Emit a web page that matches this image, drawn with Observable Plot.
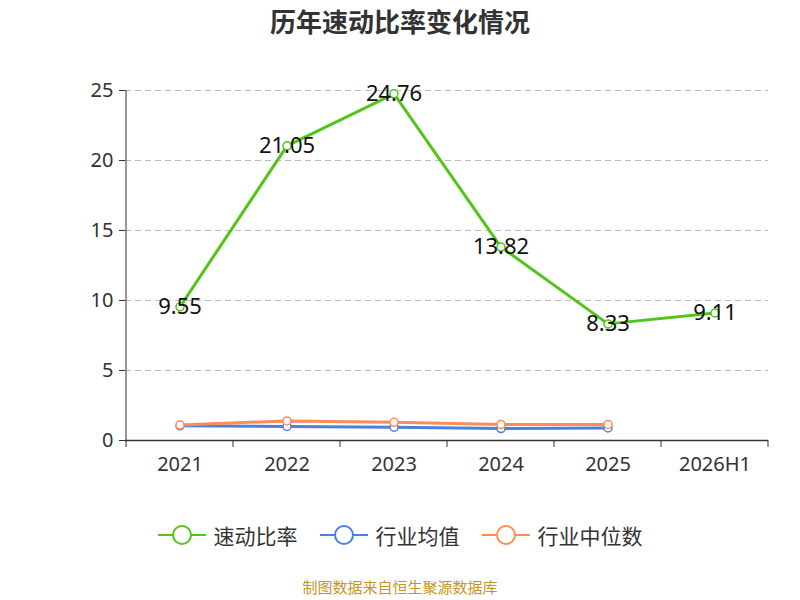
<!DOCTYPE html><html><head><meta charset="utf-8">
<script src="https://cdn.jsdelivr.net/npm/d3@7"></script>
<script src="https://cdn.jsdelivr.net/npm/@observablehq/plot@0.6"></script>
<style>body{margin:0;width:800px;height:600px;background:#fff;font-family:"Noto Sans CJK SC","Noto Sans",sans-serif;position:relative}
#t{position:absolute;top:2px;width:800px;text-align:center;font-size:26px;font-weight:bold;color:#333}
#c{position:absolute;top:40px;left:0}
#lg{position:absolute;top:520px;width:800px;display:flex;justify-content:center;gap:22px;font-size:21px;color:#333}
#lg span{display:flex;align-items:center;gap:8px}
#cap{position:absolute;top:576px;width:800px;text-align:center;font-size:15px;color:#c8961e}</style></head><body>
<div id="t">历年速动比率变化情况</div><div id="c"></div>
<div id="lg"></div><div id="cap">制图数据来自恒生聚源数据库</div>
<script>
const years=["2021","2022","2023","2024","2025","2026H1"];
const quick=[9.55,21.05,24.76,13.82,8.33,9.11];
const avgYears=["2021","2022","2023","2024","2025"];
const indAvg=[1.05,1.0,0.95,0.85,0.9];
const indMed=[1.1,1.4,1.3,1.15,1.15];
const names=["速动比率","行业均值","行业中位数"];
const colors=["#52c41a","#4a80e0","#ff8c55"];
const q=years.map((y,i)=>({y,v:quick[i]}));
const a=avgYears.map((y,i)=>({y,v:indAvg[i]}));
const m=avgYears.map((y,i)=>({y,v:indMed[i]}));
function series(d,c,w){return [Plot.line(d,{x:"y",y:"v",stroke:c,strokeWidth:w}),
 Plot.dot(d,{x:"y",y:"v",r:4,fill:"white",stroke:c,strokeWidth:1.5})];}
const chart=Plot.plot({width:800,height:460,marginLeft:125,marginRight:32,marginTop:50,marginBottom:60,
 style:{fontSize:"20px",fontFamily:"Noto Sans, Noto Sans CJK SC, sans-serif",color:"#333"},
 x:{type:"band",domain:years,padding:0,label:null,tickSize:0,tickPadding:16},
 y:{domain:[0,25],ticks:[0,5,10,15,20,25],label:null,tickSize:6,tickPadding:6},
 marks:[
  Plot.gridY([5,10,15,20,25],{stroke:"#bbb",strokeOpacity:1,strokeDasharray:"6,4"}),
  Plot.ruleY([0],{stroke:"#333",strokeWidth:1.5}),
  ...series(a,colors[1],3),...series(m,colors[2],3),...series(q,colors[0],3),
  Plot.text(q,{x:"y",y:"v",text:d=>d.v.toFixed(2),fontSize:22,fill:"#111"})
 ]});
const sx=chart.scale("x"), sy=chart.scale("y");
const y0=sy.apply(0), y1=sy.apply(25);
const xl=sx.apply(years[0]);
const svg=d3.select(chart);
svg.append("line").attr("x1",xl).attr("x2",xl).attr("y1",y1).attr("y2",y0).attr("stroke","#333");
const edges=years.map(d=>sx.apply(d)).concat([sx.apply(years[years.length-1])+sx.bandwidth]);
edges.forEach(x=>svg.append("line").attr("x1",x).attr("x2",x).attr("y1",y0).attr("y2",y0+7).attr("stroke","#333"));
document.getElementById("c").appendChild(chart);
const lg=document.getElementById("lg");
names.forEach((n,i)=>{lg.insertAdjacentHTML("beforeend",`<span><svg width="48" height="24"><line x1="0" x2="48" y1="12" y2="12" stroke="${colors[i]}" stroke-width="2"/><circle cx="24" cy="12" r="9" fill="white" stroke="${colors[i]}" stroke-width="2"/></svg>${n}</span>`)});
</script></body></html>
